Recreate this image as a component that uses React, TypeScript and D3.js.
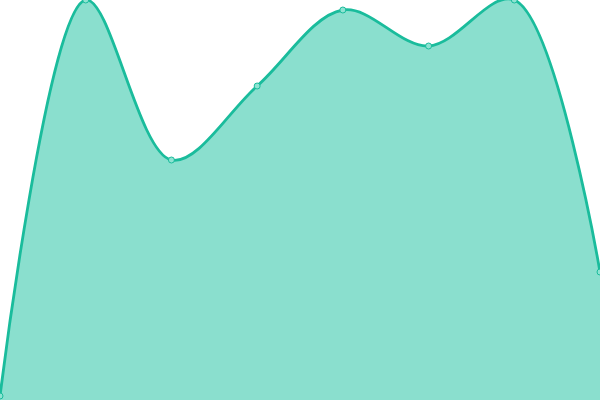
import React, { useRef, useEffect } from 'react';
import * as d3 from 'd3';

const categories = ['A', 'B', 'C', 'D', 'E', 'F', 'G', 'H'];
const values = [1, 100, 60, 78.5, 97.5, 88.5, 100, 32];

const stroke = '#1abc9c';
const fill = '#8adfce';

const AreaChart: React.FC = () => {
  const ref = useRef<SVGSVGElement>(null);

  useEffect(() => {
    const width = 600;
    const height = 400;

    const svg = d3.select(ref.current)
      .attr('width', width)
      .attr('height', height);
    svg.selectAll('*').remove();

    const x = d3.scalePoint().domain(categories).range([0, width]);
    const y = d3.scaleLinear().domain([0, 100]).range([height, 0]);

    const data = categories.map((c, i) => ({ c, v: values[i] }));

    const area = d3.area<{ c: string; v: number }>()
      .x(d => x(d.c)!)
      .y0(height)
      .y1(d => y(d.v))
      .curve(d3.curveCatmullRom.alpha(0.5));

    const line = d3.line<{ c: string; v: number }>()
      .x(d => x(d.c)!)
      .y(d => y(d.v))
      .curve(d3.curveCatmullRom.alpha(0.5));

    svg.append('path')
      .datum(data)
      .attr('fill', fill)
      .attr('d', area);

    svg.append('path')
      .datum(data)
      .attr('fill', 'none')
      .attr('stroke', stroke)
      .attr('stroke-width', 2.8)
      .attr('d', line);

    svg.selectAll('circle')
      .data(data)
      .enter()
      .append('circle')
      .attr('cx', d => x(d.c)!)
      .attr('cy', d => y(d.v))
      .attr('r', 3)
      .attr('fill', '#8ee3d2')
      .attr('stroke', stroke)
      .attr('stroke-width', 1);
  }, []);

  return <svg ref={ref} style={{ position: 'absolute', left: 0, top: 0 }}></svg>;
};

export default function App() {
  return <AreaChart />;
}
